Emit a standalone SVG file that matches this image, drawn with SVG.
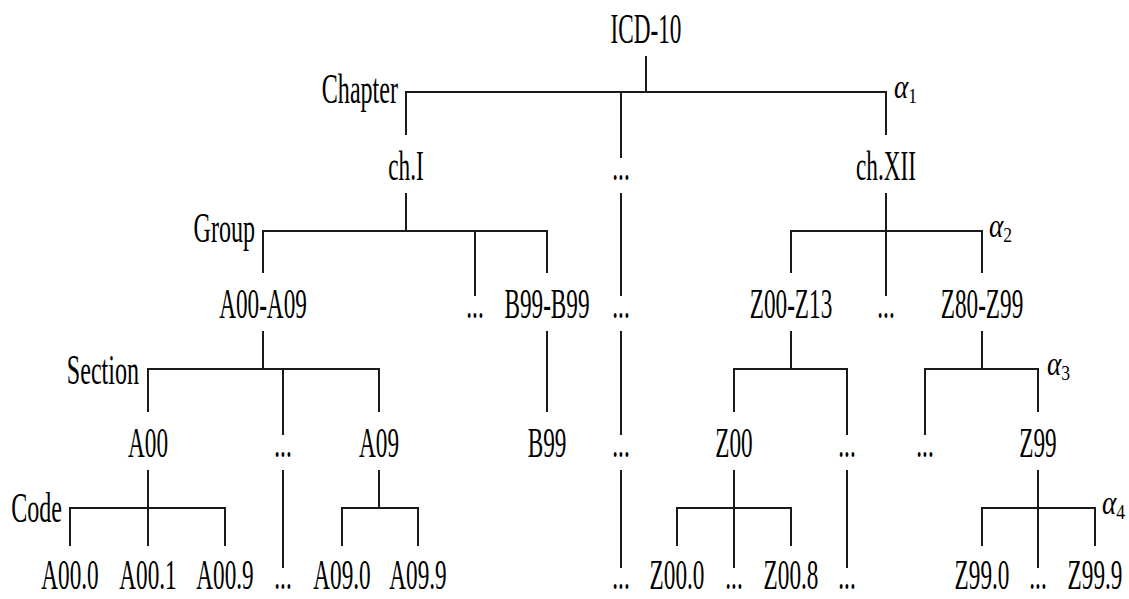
<svg xmlns="http://www.w3.org/2000/svg" width="1129" height="599" viewBox="0 0 1129 599">
<style>
.t{font-family:"Liberation Serif","Times New Roman",serif;font-size:43px;fill:#000;text-anchor:middle}
.l{font-family:"Liberation Serif","Times New Roman",serif;font-size:43px;fill:#000;text-anchor:end}
.a{font-family:"Liberation Serif","Times New Roman",serif;font-size:34px;font-style:italic;fill:#000}
.s{font-size:22px;font-style:normal}
#connectors line{stroke:#1a1a1a;stroke-width:2;stroke-linecap:butt}
</style>
<rect width="1129" height="599" fill="#fff"/>
<g id="connectors">
<line x1="646" y1="56" x2="646" y2="92"/>
<line x1="405" y1="92" x2="887" y2="92"/>
<line x1="406" y1="92" x2="406" y2="135"/>
<line x1="621" y1="92" x2="621" y2="158"/>
<line x1="886" y1="92" x2="886" y2="135"/>
<line x1="406" y1="193" x2="406" y2="231"/>
<line x1="262" y1="231" x2="548" y2="231"/>
<line x1="263" y1="231" x2="263" y2="273"/>
<line x1="475" y1="231" x2="475" y2="296"/>
<line x1="547" y1="231" x2="547" y2="273"/>
<line x1="621" y1="193" x2="621" y2="296"/>
<line x1="621" y1="331" x2="621" y2="435"/>
<line x1="621" y1="470" x2="621" y2="568"/>
<line x1="886" y1="193" x2="886" y2="296"/>
<line x1="790" y1="231" x2="983" y2="231"/>
<line x1="791" y1="231" x2="791" y2="273"/>
<line x1="982" y1="231" x2="982" y2="273"/>
<line x1="263" y1="331" x2="263" y2="369"/>
<line x1="147" y1="369" x2="380" y2="369"/>
<line x1="148" y1="369" x2="148" y2="412"/>
<line x1="283" y1="369" x2="283" y2="435"/>
<line x1="379" y1="369" x2="379" y2="412"/>
<line x1="547" y1="331" x2="547" y2="412"/>
<line x1="791" y1="331" x2="791" y2="369"/>
<line x1="733" y1="369" x2="848" y2="369"/>
<line x1="734" y1="369" x2="734" y2="412"/>
<line x1="847" y1="369" x2="847" y2="435"/>
<line x1="982" y1="331" x2="982" y2="369"/>
<line x1="924" y1="369" x2="1039" y2="369"/>
<line x1="925" y1="369" x2="925" y2="435"/>
<line x1="1038" y1="369" x2="1038" y2="412"/>
<line x1="148" y1="470" x2="148" y2="546"/>
<line x1="69" y1="508" x2="226" y2="508"/>
<line x1="70" y1="508" x2="70" y2="546"/>
<line x1="225" y1="508" x2="225" y2="546"/>
<line x1="283" y1="470" x2="283" y2="568"/>
<line x1="379" y1="470" x2="379" y2="508"/>
<line x1="341" y1="508" x2="419" y2="508"/>
<line x1="342" y1="508" x2="342" y2="546"/>
<line x1="418" y1="508" x2="418" y2="546"/>
<line x1="734" y1="470" x2="734" y2="568"/>
<line x1="676" y1="508" x2="792" y2="508"/>
<line x1="677" y1="508" x2="677" y2="546"/>
<line x1="791" y1="508" x2="791" y2="546"/>
<line x1="847" y1="470" x2="847" y2="568"/>
<line x1="1038" y1="470" x2="1038" y2="568"/>
<line x1="981" y1="508" x2="1096" y2="508"/>
<line x1="982" y1="508" x2="982" y2="546"/>
<line x1="1095" y1="508" x2="1095" y2="546"/>
</g>
<g id="labels">
<g id="lbl-chapter"><text class="l" transform="translate(398,103) scale(0.56,1)">Chapter</text></g>
<g id="lbl-group"><text class="l" transform="translate(255,242) scale(0.56,1)">Group</text></g>
<g id="lbl-section"><text class="l" transform="translate(139,384) scale(0.56,1)">Section</text></g>
<g id="lbl-code"><text class="l" transform="translate(62,522) scale(0.56,1)">Code</text></g>
<g id="alpha1"><text class="a" transform="translate(894,98) scale(0.8,1)">α<tspan class="s" dy="5">1</tspan></text></g>
<g id="alpha2"><text class="a" transform="translate(989,237) scale(0.8,1)">α<tspan class="s" dy="5">2</tspan></text></g>
<g id="alpha3"><text class="a" transform="translate(1047,375) scale(0.8,1)">α<tspan class="s" dy="5">3</tspan></text></g>
<g id="alpha4"><text class="a" transform="translate(1102,514) scale(0.8,1)">α<tspan class="s" dy="5">4</tspan></text></g>
</g>
<g id="n-icd10"><text class="t" transform="translate(646,43) scale(0.54,1)">ICD-10</text></g>
<g id="n-chI"><text class="t" transform="translate(406,180) scale(0.54,1)">ch.I</text></g>
<g id="n-ch-dots"><text class="t" transform="translate(621,180) scale(0.54,1)">...</text></g>
<g id="n-chXII"><text class="t" transform="translate(886,180) scale(0.54,1)">ch.XII</text></g>
<g id="n-A00-A09"><text class="t" transform="translate(263,318) scale(0.54,1)">A00-A09</text></g>
<g id="n-g-dots1"><text class="t" transform="translate(475,318) scale(0.54,1)">...</text></g>
<g id="n-B99-B99"><text class="t" transform="translate(547,318) scale(0.54,1)">B99-B99</text></g>
<g id="n-g-dots2"><text class="t" transform="translate(621,318) scale(0.54,1)">...</text></g>
<g id="n-Z00-Z13"><text class="t" transform="translate(791,318) scale(0.54,1)">Z00-Z13</text></g>
<g id="n-g-dots3"><text class="t" transform="translate(886,318) scale(0.54,1)">...</text></g>
<g id="n-Z80-Z99"><text class="t" transform="translate(982,318) scale(0.54,1)">Z80-Z99</text></g>
<g id="n-A00"><text class="t" transform="translate(148,457) scale(0.54,1)">A00</text></g>
<g id="n-s-dots1"><text class="t" transform="translate(283,457) scale(0.54,1)">...</text></g>
<g id="n-A09"><text class="t" transform="translate(379,457) scale(0.54,1)">A09</text></g>
<g id="n-B99"><text class="t" transform="translate(547,457) scale(0.54,1)">B99</text></g>
<g id="n-s-dots2"><text class="t" transform="translate(621,457) scale(0.54,1)">...</text></g>
<g id="n-Z00"><text class="t" transform="translate(734,457) scale(0.54,1)">Z00</text></g>
<g id="n-s-dots3"><text class="t" transform="translate(847,457) scale(0.54,1)">...</text></g>
<g id="n-s-dots4"><text class="t" transform="translate(925,457) scale(0.54,1)">...</text></g>
<g id="n-Z99"><text class="t" transform="translate(1038,457) scale(0.54,1)">Z99</text></g>
<g id="n-A00.0"><text class="t" transform="translate(70,589) scale(0.54,1)">A00.0</text></g>
<g id="n-A00.1"><text class="t" transform="translate(148,589) scale(0.54,1)">A00.1</text></g>
<g id="n-A00.9"><text class="t" transform="translate(225,589) scale(0.54,1)">A00.9</text></g>
<g id="n-c-dots1"><text class="t" transform="translate(283,589) scale(0.54,1)">...</text></g>
<g id="n-A09.0"><text class="t" transform="translate(342,589) scale(0.54,1)">A09.0</text></g>
<g id="n-A09.9"><text class="t" transform="translate(418,589) scale(0.54,1)">A09.9</text></g>
<g id="n-c-dots2"><text class="t" transform="translate(621,589) scale(0.54,1)">...</text></g>
<g id="n-Z00.0"><text class="t" transform="translate(677,589) scale(0.54,1)">Z00.0</text></g>
<g id="n-c-dots3"><text class="t" transform="translate(734,589) scale(0.54,1)">...</text></g>
<g id="n-Z00.8"><text class="t" transform="translate(791,589) scale(0.54,1)">Z00.8</text></g>
<g id="n-c-dots4"><text class="t" transform="translate(847,589) scale(0.54,1)">...</text></g>
<g id="n-Z99.0"><text class="t" transform="translate(982,589) scale(0.54,1)">Z99.0</text></g>
<g id="n-c-dots5"><text class="t" transform="translate(1038,589) scale(0.54,1)">...</text></g>
<g id="n-Z99.9"><text class="t" transform="translate(1095,589) scale(0.54,1)">Z99.9</text></g>
</svg>
